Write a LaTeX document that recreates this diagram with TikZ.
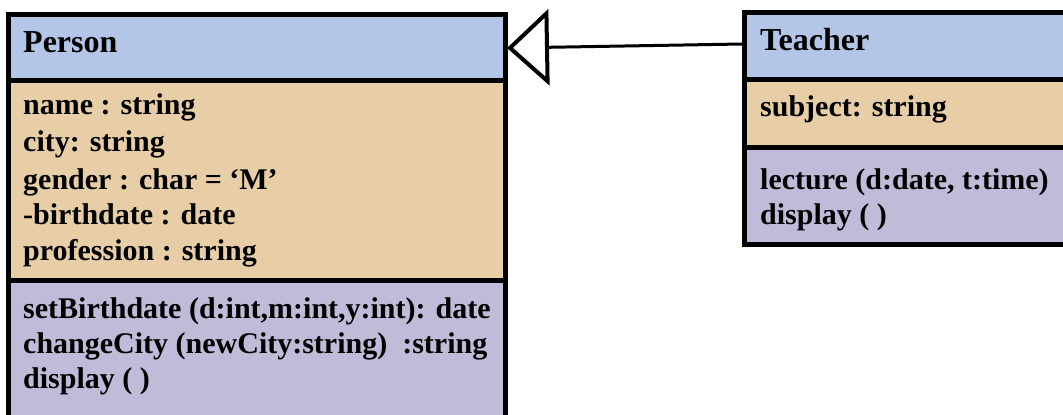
\documentclass[tikz,border=0pt]{standalone}
\usepackage{fontspec}
\setmainfont{Liberation Serif}
\usetikzlibrary{arrows.meta}
\definecolor{hdrblue}{RGB}{180,198,231}
\definecolor{attrtan}{RGB}{232,206,166}
\definecolor{methlav}{RGB}{190,188,216}
\tikzset{
  comp/.style={inner sep=0pt, outer sep=0pt, anchor=north west, draw=none},
  border/.style={line width=5pt, black},
  txt/.style={anchor=base west, inner sep=0pt, font=\fontsize{30}{36}\selectfont\bfseries},
  ttl/.style={anchor=base west, inner sep=0pt, font=\fontsize{32}{36}\selectfont\bfseries},
  inherit/.style={line width=3pt, -{Triangle[open, length=42pt, width=76pt, line width=4pt]}}
}
\begin{document}
\begin{tikzpicture}[x=1pt, y=-1pt]
\useasboundingbox (0,0) rectangle (1063,415);
% Person compartments
\node[comp, fill=hdrblue, minimum width=497pt, minimum height=66pt] (pHead) at (8,14) {};
\node[comp, fill=attrtan, minimum width=497pt, minimum height=200pt] (pAttr) at (8,80) {};
\node[comp, fill=methlav, minimum width=497pt, minimum height=140pt] (pMeth) at (8,280) {};
% Person borders
\draw[border] (pMeth.south west) -- (pHead.north west) -- (pHead.north east) -- (pMeth.south east);
\draw[border] (pAttr.north west) -- (pAttr.north east);
\draw[border] (pMeth.north west) -- (pMeth.north east);
% Teacher compartments
\node[comp, fill=hdrblue, minimum width=330pt, minimum height=67pt] (tHead) at (744,12) {};
\node[comp, fill=attrtan, minimum width=330pt, minimum height=68pt] (tAttr) at (744,79) {};
\node[comp, fill=methlav, minimum width=330pt, minimum height=97pt] (tMeth) at (744,147) {};
% Teacher borders
\draw[border] (tHead.north east) -- (tHead.north west) -- (tMeth.south west) -- (tMeth.south east);
\draw[border] (tAttr.north west) -- (tAttr.north east);
\draw[border] (tMeth.north west) -- (tMeth.north east);
% Person texts
\node[ttl] (pTitle) at (23,52) {Person};
\node[txt] (pA1) at (23,114) {name : string};
\node[txt] (pA2) at (23,151) {city: string};
\node[txt] (pA3) at (23,189) {gender : char = ‘M’};
\node[txt] (pA4) at (23,224) {-birthdate : date};
\node[txt] (pA5) at (23,260) {profession : string};
\node[txt] (pM1) at (23,318) {setBirthdate (d:int,m:int,y:int): date};
\node[txt] (pM2) at (23,353) {changeCity (newCity:string)\ \ :string};
\node[txt] (pM3) at (23,388) {display ( )};
% Teacher texts
\node[ttl] (tTitle) at (760,50) {Teacher};
\node[txt] (tA1) at (760,116) {subject: string};
\node[txt] (tM1) at (760,189) {lecture (d:date, t:time)};
\node[txt] (tM2) at (760,224) {display ( )};
% inheritance
\coordinate (tJoin) at (742,44);
\coordinate (pJoin) at (507,48);
\draw[inherit] (tJoin) -- (pJoin);
\end{tikzpicture}
\end{document}
